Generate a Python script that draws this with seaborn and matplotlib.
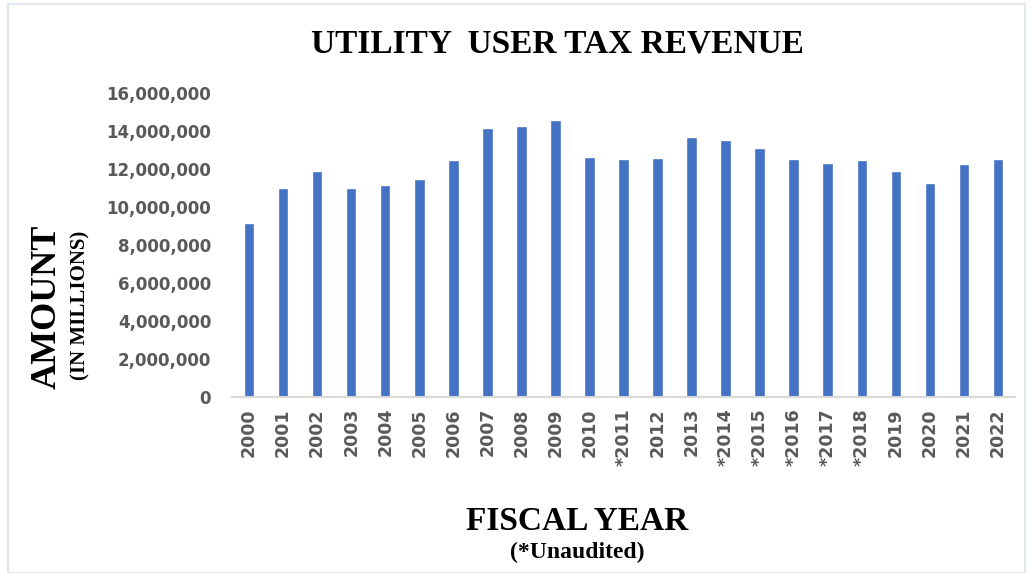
import matplotlib
matplotlib.use("Agg")
import matplotlib.pyplot as plt
import seaborn as sns
import pandas as pd
from matplotlib.ticker import FuncFormatter
from matplotlib.patches import Rectangle

years = ["2000", "2001", "2002", "2003", "2004", "2005", "2006", "2007", "2008",
         "2009", "2010", "*2011", "2012", "2013", "*2014", "*2015", "*2016",
         "*2017", "*2018", "2019", "2020", "2021", "2022"]
revenue = [9140000, 11020000, 11890000, 11020000, 11140000, 11460000, 12460000,
           14140000, 14260000, 14580000, 12630000, 12510000, 12580000, 13700000,
           13510000, 13090000, 12510000, 12330000, 12460000, 11890000, 11260000,
           12260000, 12510000]
yticks = [0, 2000000, 4000000, 6000000, 8000000, 10000000, 12000000, 14000000, 16000000]

df = pd.DataFrame({"year": years, "revenue": revenue})

sns.set_theme(style="white")
plt.rcParams['font.family'] = ['DejaVu Sans']

fig = plt.figure(figsize=(10.33, 5.73), dpi=100)
ax = fig.add_axes([232/1033, 1-397/573, (1015-232)/1033, (397-93)/573])

sns.barplot(data=df, x="year", y="revenue", color="#4472C4", width=0.31,
            saturation=1, ax=ax)

ax.set_xlim(-0.5, len(years) - 0.5)
ax.set_ylim(0, 16000000)
ax.set_yticks(yticks)
ax.yaxis.set_major_formatter(FuncFormatter(lambda v, p: f"{int(v):,}"))
ax.set_xlabel("")
ax.set_ylabel("")

for s in ["top", "right", "left"]:
    ax.spines[s].set_visible(False)
ax.spines["bottom"].set_color("#D9D9D9")
ax.spines["bottom"].set_linewidth(1.5)
ax.tick_params(axis="both", length=0, colors="#595959")
ax.tick_params(axis="y", pad=15)
ax.tick_params(axis="x", pad=8)
for lab in ax.get_yticklabels():
    lab.set_fontsize(12)
    lab.set_fontweight("semibold")
for lab in ax.get_xticklabels():
    lab.set_fontsize(12.5)
    lab.set_fontweight("semibold")
    lab.set_rotation(90)

serif = ["Liberation Serif", "DejaVu Serif"]
fig.text(557/1033, 1-44/573, "UTILITY  USER TAX REVENUE", ha="center", va="center",
         fontsize=24, fontweight="bold", family=serif, color="black")
fig.text(47/1033, 1-307/573, "AMOUNT", ha="center", va="center", rotation=90,
         fontsize=26, fontweight="bold", family=serif, color="black")
fig.text(80/1033, 1-305/573, "(IN MILLIONS)", ha="center", va="center", rotation=90,
         fontsize=15, fontweight="bold", family=serif, color="black")
fig.text(577/1033, 1-521/573, "FISCAL YEAR", ha="center", va="center",
         fontsize=24, fontweight="bold", family=serif, color="black")
fig.text(577/1033, 1-552/573, "(*Unaudited)", ha="center", va="center",
         fontsize=17, fontweight="bold", family=serif, color="black")

fig.patches.append(Rectangle((8/1033, 0), 1 - 16/1033, 1 - 4/573, transform=fig.transFigure,
                             fill=False, edgecolor="#DCE3EE", linewidth=1.2))

fig.savefig("out.png", dpi=100)
